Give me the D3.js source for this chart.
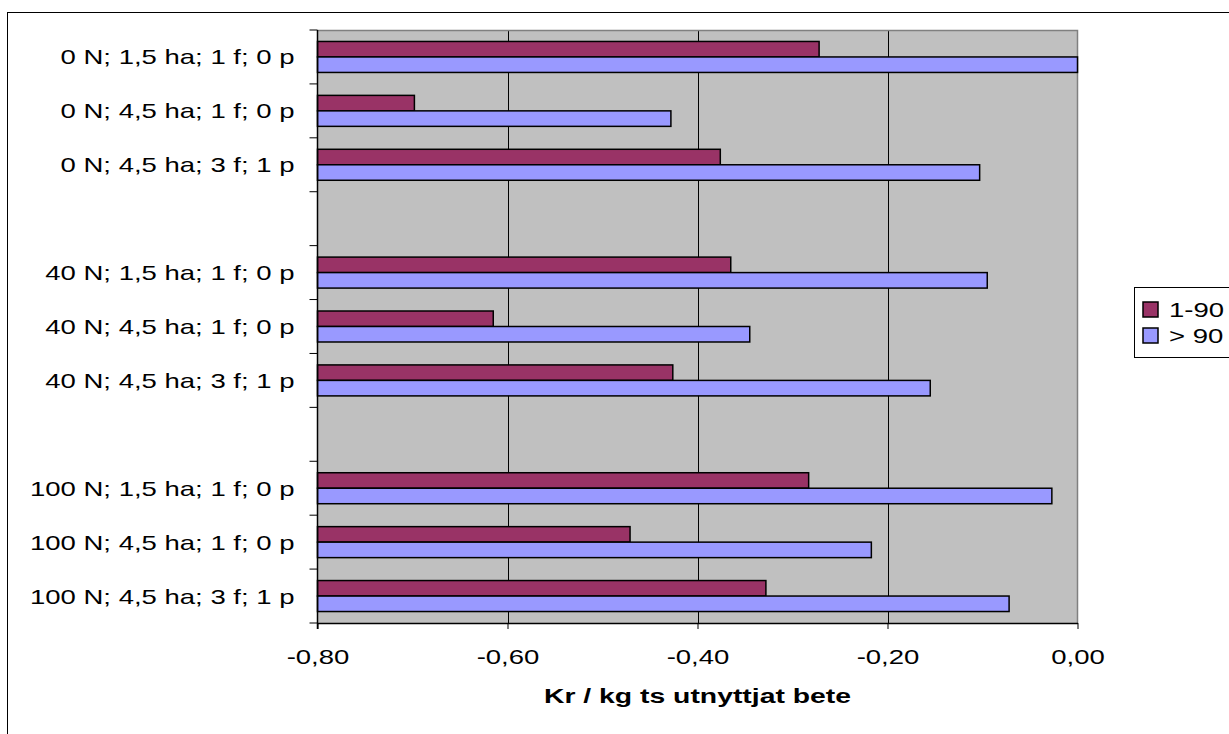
<!DOCTYPE html>
<html>
<head>
<meta charset="utf-8">
<script src="https://cdn.jsdelivr.net/npm/d3@7"></script>
<style>
  body { margin: 0; background: #fff; }
  svg text { font-family: "Liberation Sans", Arial, sans-serif; fill: #000; }
</style>
</head>
<body>
<div class="d3-wrapper"></div>
<script>
// Data (empty labels are Excel spacer rows)
const categories = [
  '0 N; 1,5 ha; 1 f; 0 p', '0 N; 4,5 ha; 1 f; 0 p', '0 N; 4,5 ha; 3 f; 1 p', '',
  '40 N; 1,5 ha; 1 f; 0 p', '40 N; 4,5 ha; 1 f; 0 p', '40 N; 4,5 ha; 3 f; 1 p', '',
  '100 N; 1,5 ha; 1 f; 0 p', '100 N; 4,5 ha; 1 f; 0 p', '100 N; 4,5 ha; 3 f; 1 p'
];
const seriesNames = ['1-90', '> 90'];
const values1to90 = [-0.272, -0.698, -0.376, null, -0.365, -0.615, -0.426, null, -0.283, -0.471, -0.328];
const valuesOver90 = [0.0, -0.428, -0.103, null, -0.095, -0.345, -0.155, null, -0.027, -0.217, -0.072];
const xTicks = [-0.8, -0.6, -0.4, -0.2, 0.0];
const xTitle = 'Kr / kg ts utnyttjat bete';

const seriesColors = ['#993366', '#9999FF'];

const WIDTH = 1229, HEIGHT = 734;
const PLOT = { left: 317.5, top: 30, right: 1077.5, bottom: 623 };
const STRETCH = 1.31; // source text is drawn horizontally widened

const svg = d3.select('.d3-wrapper').append('svg')
  .attr('width', WIDTH)
  .attr('height', HEIGHT);

// chart area border
svg.append('rect')
  .attr('x', 7.5).attr('y', 12.5)
  .attr('width', WIDTH + 20).attr('height', HEIGHT + 20)
  .attr('fill', '#fff').attr('stroke', '#000').attr('stroke-width', 1);

const xScale = d3.scaleLinear().domain([-0.8, 0]).range([PLOT.left, PLOT.right]);
const yScale = d3.scaleBand().domain(d3.range(categories.length)).range([PLOT.top, PLOT.bottom]);
const ySub = d3.scaleBand().domain([0, 1]).range([0, yScale.step()]).paddingOuter(0.74);

// plot background
svg.append('rect')
  .attr('x', PLOT.left).attr('y', PLOT.top)
  .attr('width', PLOT.right - PLOT.left).attr('height', PLOT.bottom - PLOT.top)
  .attr('fill', '#C0C0C0');

// gridlines
svg.append('g').selectAll('line')
  .data(xTicks.slice(1, -1))
  .enter().append('line')
  .attr('x1', d => Math.round(xScale(d)) + 0.5).attr('x2', d => Math.round(xScale(d)) + 0.5)
  .attr('y1', PLOT.top).attr('y2', PLOT.bottom)
  .attr('stroke', '#000').attr('stroke-width', 1);

// top / right border
svg.append('path')
  .attr('d', `M${PLOT.left},${PLOT.top + 0.5}H${PLOT.right}V${PLOT.bottom}`)
  .attr('fill', 'none').attr('stroke', '#808080').attr('stroke-width', 1.5);

// bars
const seriesData = [values1to90, valuesOver90];
seriesData.forEach((vals, s) => {
  svg.append('g').selectAll('rect')
    .data(vals.map((v, i) => ({ i, v })).filter(d => d.v !== null))
    .enter().append('rect')
    .attr('x', xScale(-0.8))
    .attr('y', d => yScale(d.i) + ySub(s))
    .attr('width', d => xScale(d.v) - xScale(-0.8))
    .attr('height', ySub.bandwidth())
    .attr('fill', seriesColors[s])
    .attr('stroke', '#000').attr('stroke-width', 1.5);
});

// x axis
const xAxis = d3.axisBottom(xScale)
  .tickValues(xTicks)
  .tickSizeOuter(0)
  .tickSizeInner(6)
  .tickFormat(d => d3.format('.2f')(d).replace('\u2212', '-').replace('.', ','));

const gx = svg.append('g')
  .attr('transform', `translate(0, ${PLOT.bottom})`)
  .call(xAxis);
gx.select('.domain').attr('stroke', '#000').attr('stroke-width', 1.5);
gx.selectAll('.tick line').attr('stroke', '#000');
gx.selectAll('.tick text')
  .attr('y', 0).attr('dy', null)
  .attr('transform', `translate(0, 41) scale(${STRETCH}, 1)`)
  .style('font-size', '21px');

// y axis: labels at band centres, ticks on band boundaries
const yAxis = d3.axisLeft(yScale)
  .tickSize(0)
  .tickFormat(i => categories[i]);

const gy = svg.append('g')
  .attr('transform', `translate(${PLOT.left}, 0)`)
  .call(yAxis);
gy.select('.domain').remove();
gy.selectAll('.tick text')
  .attr('x', 0).attr('dy', null)
  .attr('transform', `translate(-23, 7.5) scale(${STRETCH}, 1)`)
  .style('font-size', '21px');

svg.append('g').selectAll('line')
  .data(d3.range(categories.length + 1))
  .enter().append('line')
  .attr('x1', PLOT.left - 8).attr('x2', PLOT.left)
  .attr('y1', i => PLOT.top + i * yScale.step()).attr('y2', i => PLOT.top + i * yScale.step())
  .attr('stroke', '#000');

svg.append('line')
  .attr('x1', PLOT.left).attr('x2', PLOT.left)
  .attr('y1', PLOT.top).attr('y2', PLOT.bottom + 6)
  .attr('stroke', '#000').attr('stroke-width', 1.5);

// axis title
svg.append('text')
  .attr('transform', `translate(${(PLOT.left + PLOT.right) / 2}, 703) scale(1.35, 1)`)
  .style('text-anchor', 'middle')
  .style('font-size', '21px')
  .style('font-weight', 'bold')
  .text(xTitle);

// legend
const legend = svg.append('g').attr('transform', 'translate(1134.5, 287.5)');
legend.append('rect')
  .attr('width', 120).attr('height', 70)
  .attr('fill', '#fff').attr('stroke', '#000');

const legendItem = legend.selectAll('g.item')
  .data(seriesNames)
  .enter().append('g')
  .attr('class', 'item')
  .attr('transform', (d, i) => `translate(0, ${22 + i * 26})`);

legendItem.append('rect')
  .attr('x', 8.5).attr('y', -7.5)
  .attr('width', 15).attr('height', 15)
  .attr('fill', (d, i) => seriesColors[i])
  .attr('stroke', '#000').attr('stroke-width', 1.5);

legendItem.append('text')
  .attr('transform', `translate(34.5, 7.5) scale(${STRETCH}, 1)`)
  .style('font-size', '21px')
  .text(d => d);
</script>
</body>
</html>
